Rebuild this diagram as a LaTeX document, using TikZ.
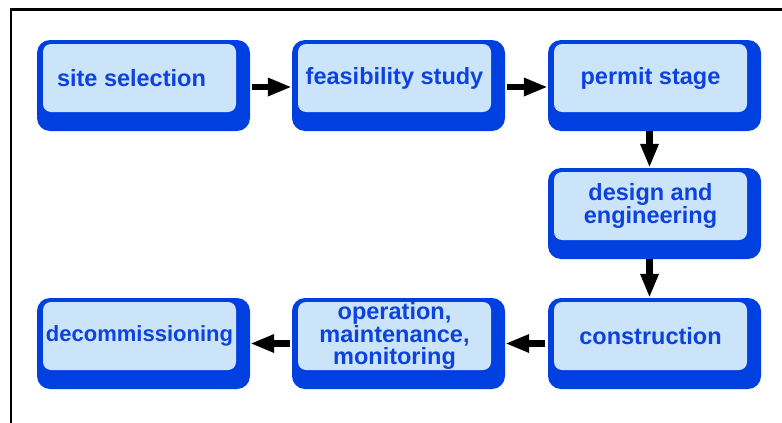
\documentclass[tikz,border=0pt]{standalone}
\usepackage{fontspec}
\setmainfont{Liberation Sans}
\usetikzlibrary{arrows.meta}
\definecolor{dkblue}{RGB}{0,64,224}
\definecolor{ltblue}{RGB}{204,228,250}
\definecolor{txtblue}{RGB}{12,66,222}
\newcommand\stagebox[5][]{%
  \node[outerbox] (#2) at (#3+106.5,#4+45.5) {};
  \node[innerbox,#1] (#2t) at (#3+102.5,#4+38) {#5};
}
\begin{document}
\begin{tikzpicture}[x=1pt,y=-1pt,
  outerbox/.style={draw=none, fill=dkblue, rounded corners=13pt, minimum width=213pt, minimum height=91pt, inner sep=0pt},
  innerbox/.style={fill=ltblue, rounded corners=8pt, minimum width=193pt, minimum height=68pt, inner sep=0pt, text=txtblue, font=\bfseries\fontsize{23.5}{20.5}\selectfont, align=center},
  smalltext/.style={font=\bfseries\fontsize{22}{20}\selectfont},
  arr/.style={line width=6.5pt, -{Triangle[length=24pt,width=17pt]}}]
\useasboundingbox (0,0) rectangle (782,423);
\draw[line width=2.4pt] (11.2,424) -- (11.2,9.3) -- (783,9.3);
\stagebox[text width=165pt, align=flush left]{site}{37}{40}{site selection}
\stagebox{feas}{292}{40}{feasibility study}
\stagebox{permit}{548}{40}{permit stage}
\stagebox{design}{548}{168}{design and\\engineering}
\stagebox{constr}{548}{298}{construction}
\stagebox{oper}{292}{298}{operation,\\maintenance,\\monitoring}
\stagebox[smalltext]{decom}{37}{298}{decommissioning}
\draw[arr, shorten <=2pt] ([yshift=-1.5pt]site.east) -- ([yshift=-1.5pt]feas.west);
\draw[arr, shorten <=2pt] ([yshift=-1.5pt]feas.east) -- ([yshift=-1.5pt]permit.west);
\draw[arr] ([xshift=-5pt]permit.south) -- ([xshift=-5pt]design.north);
\draw[arr] ([xshift=-5pt]design.south) -- ([xshift=-5pt]constr.north);
\draw[arr, shorten <=3pt] (constr.west) -- (oper.east);
\draw[arr, shorten <=2pt] (oper.west) -- (decom.east);
\end{tikzpicture}
\end{document}
